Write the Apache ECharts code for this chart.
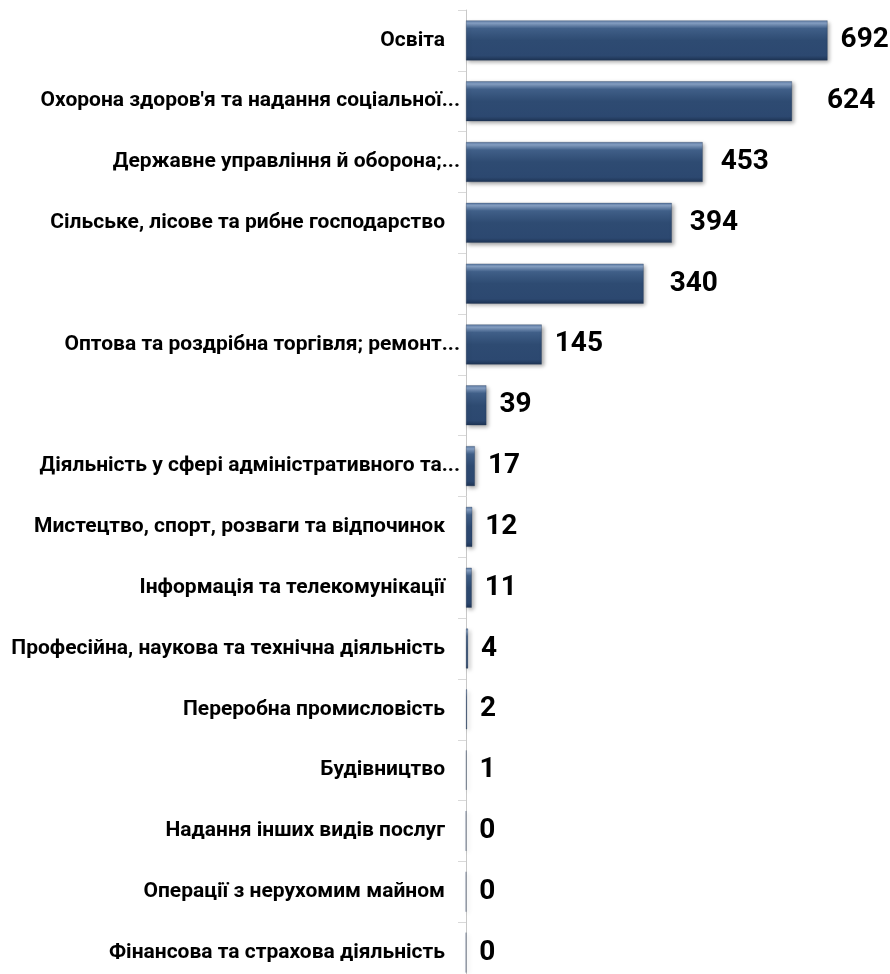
<!DOCTYPE html>
<html>
<head>
<meta charset="utf-8">
<script src="https://cdn.jsdelivr.net/npm/echarts@6/dist/echarts.min.js"></script>
<style>
html,body{margin:0;padding:0;background:#fff;overflow:hidden;}
#c{width:890px;height:990px;}
</style>
</head>
<body>
<div id="c"></div>
<script>
// Categories (top to bottom) and values
const categories = [
  "Освіта",
  "Охорона здоров'я та надання соціальної...",
  "Державне управління й оборона;...",
  "Сільське, лісове та рибне господарство",
  "",
  "Оптова та роздрібна торгівля; ремонт...",
  "",
  "Діяльність у сфері адміністративного та...",
  "Мистецтво, спорт, розваги та відпочинок",
  "Інформація та телекомунікації",
  "Професійна, наукова та технічна діяльність",
  "Переробна промисловість",
  "Будівництво",
  "Надання інших видів послуг",
  "Операції з нерухомим майном",
  "Фінансова та страхова діяльність"
];
const values = [692, 624, 453, 394, 340, 145, 39, 17, 12, 11, 4, 2, 1, 0, 0, 0];

// extra horizontal nudge for some value labels (as in the source picture)
const labelNudge = {1: 22, 2: 5, 3: 5, 4: 13};

const chart = echarts.init(document.getElementById('c'), null, {renderer: 'canvas'});

const barColor = new echarts.graphic.LinearGradient(0, 0, 0, 1, [
  {offset: 0, color: '#5b7aa3'},
  {offset: 0.07, color: '#86a0c3'},
  {offset: 0.2, color: '#405f88'},
  {offset: 0.5, color: '#2e4b72'},
  {offset: 0.88, color: '#2c4870'},
  {offset: 1, color: '#1e3454'}
]);

const seriesData = values.map((v, i) => {
  const item = {value: v};
  if (labelNudge[i]) item.label = {offset: [labelNudge[i], 0]};
  return item;
});

chart.setOption({
  animation: false,
  grid: {left: 466, right: 6, top: 10, height: 973},
  xAxis: {
    type: 'value', min: 0, max: 800, show: false,
    splitLine: {show: false}
  },
  yAxis: {
    type: 'category',
    data: categories,
    inverse: true,
    axisLine: {show: true, lineStyle: {color: '#c8c8c8', width: 1}},
    axisTick: {show: true, length: 8, lineStyle: {color: '#d9d9d9'}},
    axisLabel: {
      margin: 6,
      interval: 0,
      formatter: function (name) {
        if (!name) return '';
        if (name.endsWith('...')) return '{t|' + name + '}';
        return '{t|' + name + '}{sp|}';
      },
      rich: {
        t: {fontFamily: 'Roboto', fontWeight: 'bold', fontSize: 21, color: '#000'},
        sp: {width: 15}
      }
    }
  },
  series: [{
    type: 'bar',
    data: seriesData,
    barWidth: 40,
    itemStyle: {
      color: barColor,
      borderColor: 'rgba(30,50,80,0.6)',
      borderWidth: 0.5,
      shadowColor: 'rgba(0,0,0,0.35)',
      shadowBlur: 4,
      shadowOffsetX: 2,
      shadowOffsetY: 2
    },
    label: {
      show: true,
      position: 'right',
      distance: 13,
      fontFamily: 'Roboto',
      fontWeight: 'bold',
      fontSize: 28,
      color: '#000'
    }
  }]
});
</script>
</body>
</html>
